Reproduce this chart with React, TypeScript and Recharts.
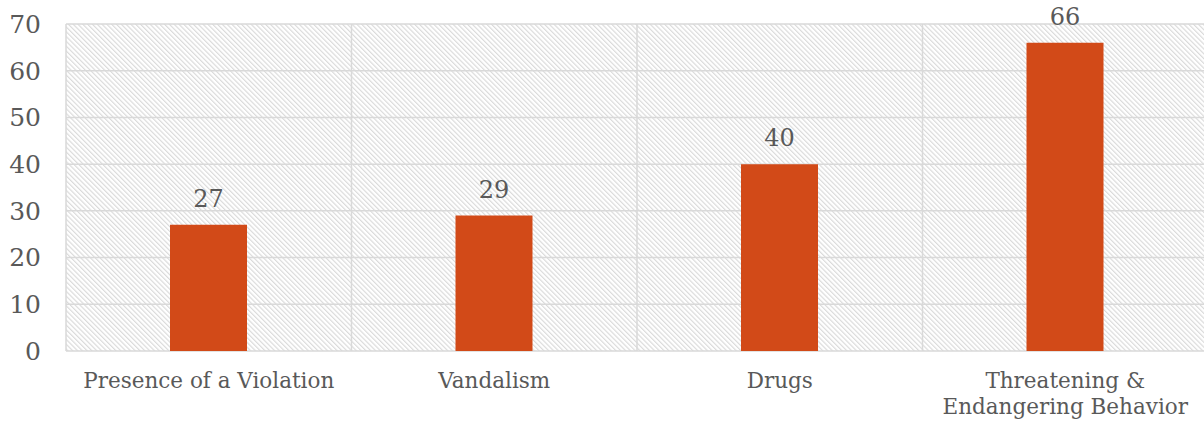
import { BarChart, Bar, XAxis, YAxis, CartesianGrid, LabelList } from "recharts";

const categories = ["Presence of a Violation", "Vandalism", "Drugs", "Threatening &\nEndangering Behavior"];
const counts = [27, 29, 40, 66];
const yTicks = [0, 10, 20, 30, 40, 50, 60, 70];

const data = categories.map((name, i) => ({ name, value: counts[i] }));

const FONT = "'DejaVu Serif', serif";
const TEXT = "#595959";

const CategoryTick = ({ x, y, payload }: any) => {
  const lines = String(payload.value).split("\n");
  return (
    <text x={x} y={y} textAnchor="middle" fill={TEXT} fontFamily={FONT} fontSize={21.5}>
      {lines.map((line, i) => (
        <tspan key={i} x={x} dy={i === 0 ? 37 : 26}>
          {line}
        </tspan>
      ))}
    </text>
  );
};

const App = () => {
  return (
    <div style={{ position: "fixed", left: 0, top: 0, width: 1204, height: 426, overflow: "hidden", background: "#fff" }}>
      <BarChart
        width={1212}
        height={426}
        data={data}
        margin={{ top: 24, right: 4, left: 0, bottom: 0 }}
        barCategoryGap={0}
      >
        <defs>
          <pattern id="hatch" patternUnits="userSpaceOnUse" width={3.4} height={3.4} patternTransform="rotate(-45)">
            <rect width={3.4} height={3.4} fill="#ffffff" />
            <line x1={0.6} y1={0} x2={0.6} y2={3.4} stroke="#d8d8d8" strokeWidth={1.1} />
          </pattern>
        </defs>
        <CartesianGrid
          fill="url(#hatch)"
          stroke="#d9d9d9"
          strokeWidth={1.5}
          verticalCoordinatesGenerator={({ offset }: any) =>
            categories.map((_, i) => offset.left + (i * offset.width) / categories.length)
          }
        />
        <XAxis
          dataKey="name"
          interval={0}
          axisLine={false}
          tickLine={false}
          tickSize={0}
          tickMargin={0}
          height={75}
          tick={<CategoryTick />}
        />
        <YAxis
          domain={[0, 70]}
          ticks={yTicks}
          axisLine={false}
          tickLine={false}
          tickSize={0}
          tickMargin={25}
          width={66}
          tick={{ fill: TEXT, fontFamily: FONT, fontSize: 25 }}
        />
        <Bar dataKey="value" fill="#d24a18" barSize={77} isAnimationActive={false}>
          <LabelList dataKey="value" position="top" offset={18} fill={TEXT} fontFamily={FONT} fontSize={24} />
        </Bar>
      </BarChart>
    </div>
  );
};

export default App;
